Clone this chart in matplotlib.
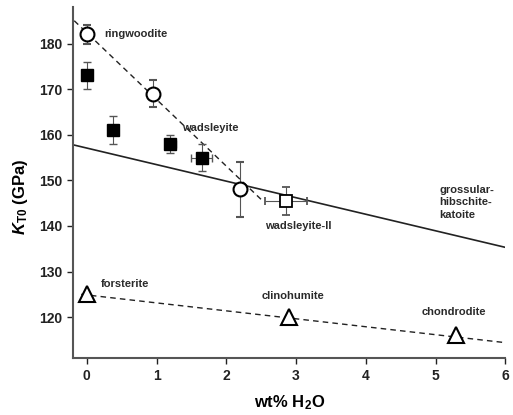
import numpy as np
import matplotlib.pyplot as plt

plt.rcParams['font.family'] = ['Liberation Sans', 'DejaVu Sans']
plt.rcParams['font.weight'] = 'bold'
plt.rcParams['mathtext.fontset'] = 'custom'
plt.rcParams['mathtext.rm'] = 'Liberation Sans:bold'
plt.rcParams['mathtext.it'] = 'Liberation Sans:bold:italic'
plt.rcParams['mathtext.bf'] = 'Liberation Sans:bold'

# ringwoodite (open circles)
rw_x = [0.0, 0.95, 2.2]
rw_y = [182, 169, 148]
rw_yerr = [2, 3, 6]

# wadsleyite (filled squares)
wd_x = [0.0, 0.38, 1.2, 1.65]
wd_y = [173, 161, 158, 155]
wd_xerr = [0, 0, 0.08, 0.15]
wd_yerr = [3, 3, 2, 3]

# wadsleyite-II (open square)
w2_x = [2.85]
w2_y = [145.5]
w2_xerr = [0.3]
w2_yerr = [3]

# humite group / forsterite (open triangles)
hm_x = [0.0, 2.9, 5.3]
hm_y = [125, 120, 116]

# trend lines: x ends, y ends
rw_line = ([-0.18, 2.5], [185, 145.8])
gk_line = ([-0.2, 6.0], [157.8, 135.3])
hm_line = ([-0.08, 6.0], [125.0, 114.4])

fig = plt.figure(figsize=(5.13, 4.15), dpi=100)
ax = fig.add_axes([0.142, 0.137, 0.843, 0.846])

line_c = '#222222'
err_c = '#555555'

ax.plot(*rw_line, ls=(0, (4, 3)), color=line_c, lw=1, zorder=1)
ax.plot(*gk_line, ls='-', color=line_c, lw=1.2, zorder=1)
ax.plot(*hm_line, ls=(0, (4, 3)), color=line_c, lw=1, zorder=1)

ax.errorbar(rw_x, rw_y, yerr=rw_yerr, fmt='o', ms=10, mfc='white', mec='black',
            mew=1.5, ecolor=err_c, elinewidth=0.8, capsize=3, zorder=3)
ax.errorbar(wd_x, wd_y, xerr=wd_xerr, yerr=wd_yerr, fmt='s', ms=9, mfc='black',
            mec='black', ecolor=err_c, elinewidth=0.8, capsize=3, zorder=3)
ax.errorbar(w2_x, w2_y, xerr=w2_xerr, yerr=w2_yerr, fmt='s', ms=9, mfc='white',
            mec='black', mew=1.3, ecolor=err_c, elinewidth=0.8, capsize=3, zorder=3)
ax.plot(hm_x, hm_y, '^', ms=11, mfc='white', mec='black', mew=1.5, ls='none', zorder=3)

lab = dict(fontsize=8, color='#2a2a2a', fontweight='bold')
ax.text(0.25, 182, 'ringwoodite', va='center', **lab)
ax.text(1.37, 161.5, 'wadsleyite', va='center', **lab)
ax.text(2.55, 140, 'wadsleyite-II', va='center', **lab)
ax.text(5.05, 149.0, 'grossular-\nhibschite-\nkatoite', va='top', linespacing=1.3, **lab)
ax.text(0.2, 127.2, 'forsterite', va='center', **lab)
ax.text(2.5, 124.6, 'clinohumite', va='center', **lab)
ax.text(4.8, 121.2, 'chondrodite', va='center', **lab)

ax.set_xlim(-0.2, 6.0)
ax.set_ylim(111, 188)
ax.set_xticks(range(0, 7))
ax.set_yticks(range(120, 181, 10))
ax.tick_params(direction='out', length=4, width=1, labelsize=10, colors='#222222')
for s in ['top', 'right']:
    ax.spines[s].set_visible(False)
for s in ['left', 'bottom']:
    ax.spines[s].set_linewidth(1.5)
    ax.spines[s].set_color('#555555')

ax.set_xlabel(r'wt% H$_{2}$O', fontsize=12, fontweight='bold', labelpad=8)
ax.set_ylabel(r'$K_{\mathrm{T0}}$ (GPa)', fontsize=12, fontweight='bold')
ax.yaxis.set_label_coords(-0.1, 0.46)

plt.savefig('out.png', dpi=100)
